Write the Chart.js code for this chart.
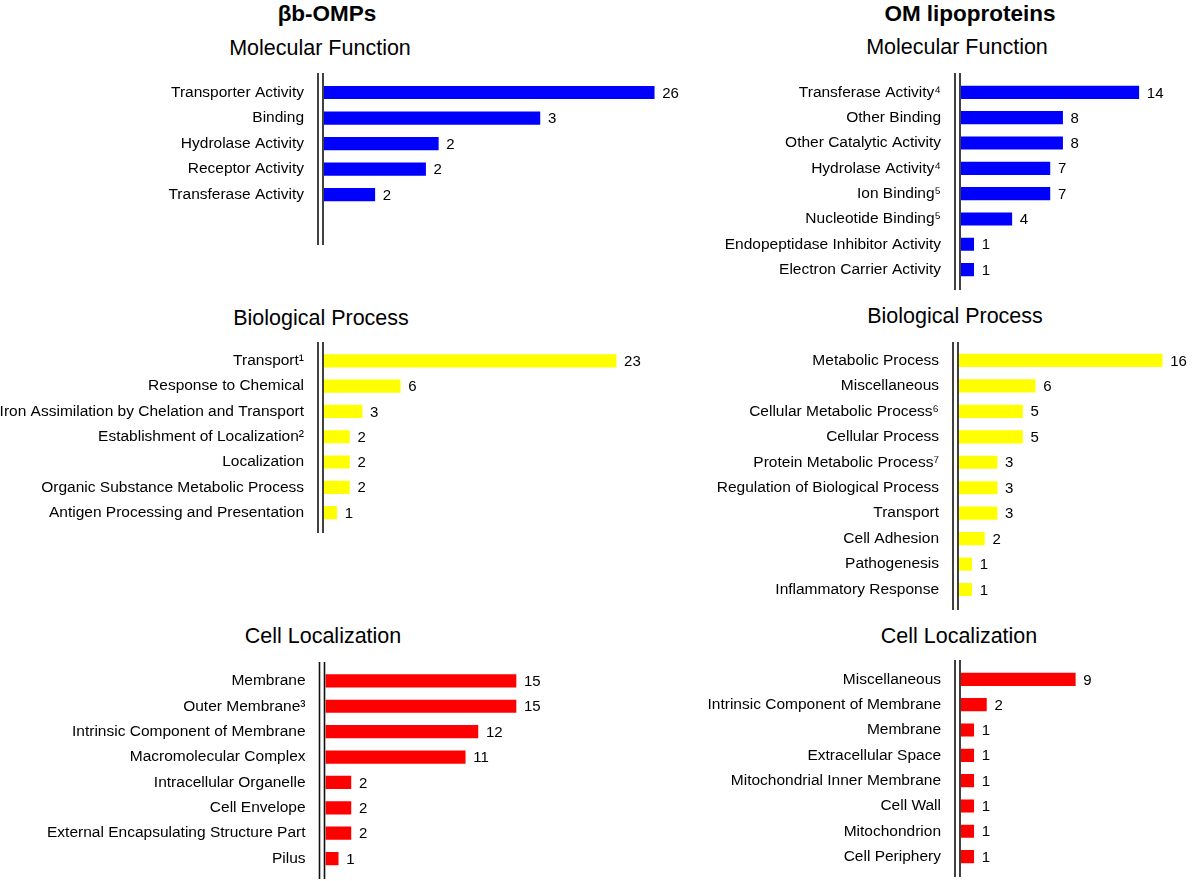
<!DOCTYPE html>
<html>
<head>
<meta charset="utf-8">
<script src="https://cdn.jsdelivr.net/npm/chart.js@4.4.1/dist/chart.umd.min.js"></script>
<style>
  html, body { margin: 0; padding: 0; background: #fff; overflow: hidden; }
  #fig { position: relative; width: 1192px; height: 881px; font-family: "Liberation Sans", Arial, sans-serif; color: #000; }
  .t { position: absolute; transform: translate(-50%, -50%); white-space: nowrap; }
  .h { font-weight: bold; font-size: 22.5px; }
  .s { font-size: 21.5px; }
  canvas { position: absolute; }
</style>
</head>
<body>
<div id="fig">
  <div class="t h" style="left:327px;top:14px">βb-OMPs</div>
  <div class="t h" style="left:970px;top:14px">OM lipoproteins</div>
  <div class="t s" style="left:320px;top:48px">Molecular Function</div>
  <div class="t s" style="left:957px;top:47px">Molecular Function</div>
  <div class="t s" style="left:321px;top:318px">Biological Process</div>
  <div class="t s" style="left:955px;top:316px">Biological Process</div>
  <div class="t s" style="left:323px;top:636px">Cell Localization</div>
  <div class="t s" style="left:959px;top:636px">Cell Localization</div>
</div>
<script>
// βb-OMPs, molecular function (bar lengths in the figure do not follow the printed counts)
const mfOmpLabels = ['Transporter Activity', 'Binding', 'Hydrolase Activity', 'Receptor Activity', 'Transferase Activity'];
const mfOmpCounts = [26, 3, 2, 2, 2];
const mfOmpBars = [26, 17, 9, 8, 4];

// OM lipoproteins, molecular function
const mfLipoLabels = ['Transferase Activity⁴', 'Other Binding', 'Other Catalytic Activity', 'Hydrolase Activity⁴',
  'Ion Binding⁵', 'Nucleotide Binding⁵', 'Endopeptidase Inhibitor Activity', 'Electron Carrier Activity'];
const mfLipoCounts = [14, 8, 8, 7, 7, 4, 1, 1];

// βb-OMPs, biological process
const bpOmpLabels = ['Transport¹', 'Response to Chemical', 'Iron Assimilation by Chelation and Transport',
  'Establishment of Localization²', 'Localization', 'Organic Substance Metabolic Process', 'Antigen Processing and Presentation'];
const bpOmpCounts = [23, 6, 3, 2, 2, 2, 1];

// OM lipoproteins, biological process
const bpLipoLabels = ['Metabolic Process', 'Miscellaneous', 'Cellular Metabolic Process⁶', 'Cellular Process',
  'Protein Metabolic Process⁷', 'Regulation of Biological Process', 'Transport', 'Cell Adhesion', 'Pathogenesis', 'Inflammatory Response'];
const bpLipoCounts = [16, 6, 5, 5, 3, 3, 3, 2, 1, 1];

// βb-OMPs, cell localization
const clOmpLabels = ['Membrane', 'Outer Membrane³', 'Intrinsic Component of Membrane', 'Macromolecular Complex',
  'Intracellular Organelle', 'Cell Envelope', 'External Encapsulating Structure Part', 'Pilus'];
const clOmpCounts = [15, 15, 12, 11, 2, 2, 2, 1];

// OM lipoproteins, cell localization
const clLipoLabels = ['Miscellaneous', 'Intrinsic Component of Membrane', 'Membrane', 'Extracellular Space',
  'Mitochondrial Inner Membrane', 'Cell Wall', 'Mitochondrion', 'Cell Periphery'];
const clLipoCounts = [9, 2, 1, 1, 1, 1, 1, 1];

const FONT = '"Liberation Sans", Arial, sans-serif';
const PPU = 12.7;   // pixels per count, same in every panel
const ROW = 25.55;  // row pitch
const LEAD = 12;    // canvas starts this far above the axis lines
Chart.defaults.color = '#000';
Chart.defaults.font.family = FONT;

// the double vertical line left of the bars
const axisLines = {
  id: 'axisLines',
  afterDraw(chart) {
    const ctx = chart.ctx;
    const left = chart.chartArea.left;
    ctx.save();
    ctx.strokeStyle = '#111';
    ctx.lineWidth = 1.6;
    [left - 6, left - 1].forEach(x => {
      ctx.beginPath();
      ctx.moveTo(x, LEAD);
      ctx.lineTo(x, chart.height);
      ctx.stroke();
    });
    ctx.restore();
  }
};

// count printed after each bar
function countLabels(counts) {
  return {
    id: 'countLabels',
    afterDatasetsDraw(chart) {
      const ctx = chart.ctx;
      ctx.save();
      ctx.font = '15px ' + FONT;
      ctx.fillStyle = '#000';
      ctx.textBaseline = 'middle';
      chart.getDatasetMeta(0).data.forEach((bar, i) => {
        ctx.fillText(String(counts[i]), bar.x + 8, bar.y + 1);
      });
      ctx.restore();
    }
  };
}

function panel(p) {
  const canvas = document.createElement('canvas');
  const top = p.lineTop - LEAD;
  const h = p.lineBottom - top;
  canvas.style.left = p.left + 'px';
  canvas.style.top = top + 'px';
  canvas.style.width = p.width + 'px';
  canvas.style.height = h + 'px';
  canvas.width = p.width;
  canvas.height = h;
  document.getElementById('fig').appendChild(canvas);

  const axisW = p.axisX - p.left;
  const bandTop = p.firstCenter - ROW / 2 - top;
  const bandH = ROW * p.labels.length;

  return new Chart(canvas, {
    type: 'bar',
    data: {
      labels: p.labels,
      datasets: [{
        data: p.values,
        backgroundColor: p.color,
        borderWidth: 0,
        barThickness: 12.5
      }]
    },
    options: {
      indexAxis: 'y',
      responsive: false,
      animation: false,
      layout: {
        padding: {
          left: 0,
          top: bandTop,
          bottom: h - bandTop - bandH,
          right: p.width - axisW - p.xMax * PPU
        }
      },
      plugins: { legend: { display: false }, tooltip: { enabled: false } },
      scales: {
        x: { display: false, min: 0, max: p.xMax },
        y: {
          grid: { display: false, drawTicks: true, tickLength: 20 },
          border: { display: false },
          ticks: { autoSkip: false, padding: 0, font: { size: 15.5, lineHeight: 1 }, color: '#000' },
          afterFit(scale) { scale.width = axisW; }
        }
      }
    },
    plugins: [axisLines, countLabels(p.counts)]
  });
}

panel({ labels: mfOmpLabels, values: mfOmpBars, counts: mfOmpCounts, color: '#0000ff',
  left: 0, width: 720, axisX: 324, xMax: 28, lineTop: 73, lineBottom: 245, firstCenter: 92.5 });
panel({ labels: mfLipoLabels, values: mfLipoCounts, counts: mfLipoCounts, color: '#0000ff',
  left: 640, width: 552, axisX: 961, xMax: 17, lineTop: 73, lineBottom: 290, firstCenter: 92.5 });
panel({ labels: bpOmpLabels, values: bpOmpCounts, counts: bpOmpCounts, color: '#ffff00',
  left: 0, width: 720, axisX: 324, xMax: 28, lineTop: 342, lineBottom: 533, firstCenter: 361 });
panel({ labels: bpLipoLabels, values: bpLipoCounts, counts: bpLipoCounts, color: '#ffff00',
  left: 640, width: 552, axisX: 959, xMax: 17, lineTop: 342, lineBottom: 610, firstCenter: 360.5 });
panel({ labels: clOmpLabels, values: clOmpCounts, counts: clOmpCounts, color: '#ff0000',
  left: 0, width: 720, axisX: 325.5, xMax: 28, lineTop: 662, lineBottom: 879, firstCenter: 681 });
panel({ labels: clLipoLabels, values: clLipoCounts, counts: clLipoCounts, color: '#ff0000',
  left: 640, width: 552, axisX: 961, xMax: 17, lineTop: 660, lineBottom: 877, firstCenter: 679.5 });
</script>
</body>
</html>
